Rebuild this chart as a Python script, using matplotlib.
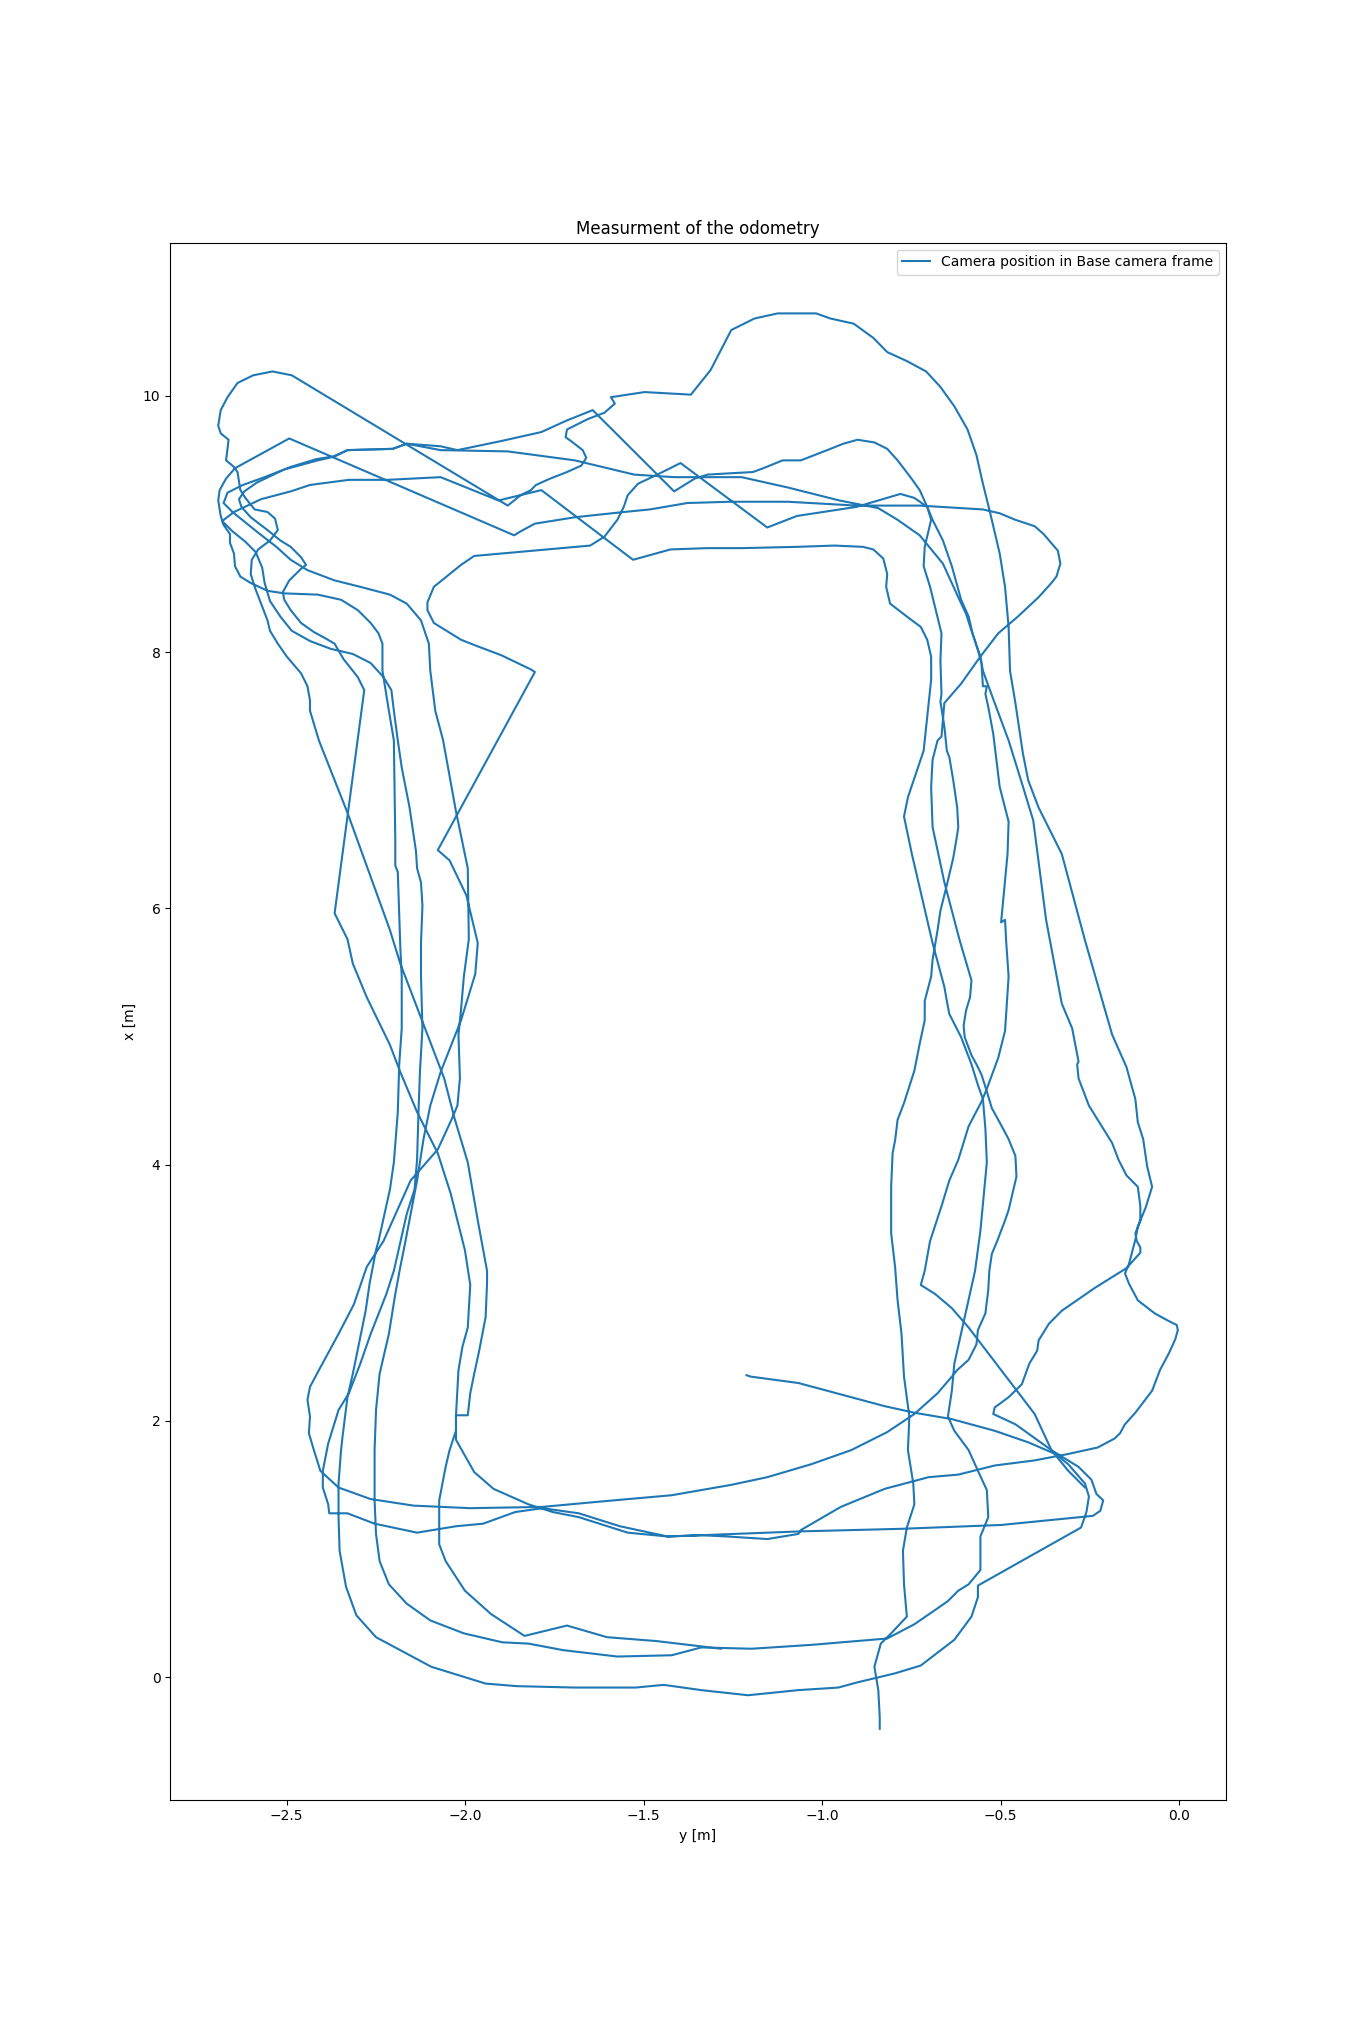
import matplotlib.pyplot as plt

# odometry trace, points are (y [m], x [m])
# start line, jump down, outer bottom, outer left side
lap1 = [(-1.212, 2.357), (-1.201, 2.346), (-1.067, 2.296), (-0.825, 2.115), (-0.742, 2.064),
        (-0.637, 2.014), (-0.517, 1.923), (-0.423, 1.833), (-0.347, 1.742), (-0.311, 1.662),
        (-0.264, 1.511), (-0.253, 1.410), (-0.260, 1.289), (-0.275, 1.168),
        (-0.564, 0.715), (-0.564, 0.624), (-0.582, 0.473), (-0.630, 0.292), (-0.724, 0.091),
        (-0.796, 0.030), (-0.901, -0.040), (-0.955, -0.081), (-1.067, -0.101), (-1.208, -0.141),
        (-1.339, -0.101), (-1.444, -0.060), (-1.523, -0.081), (-1.693, -0.081), (-1.856, -0.070),
        (-1.943, -0.050), (-2.095, 0.081), (-2.250, 0.312), (-2.305, 0.483), (-2.334, 0.705),
        (-2.352, 0.987), (-2.355, 1.249), (-2.355, 1.511), (-2.348, 1.772), (-2.344, 1.873),
        (-2.330, 2.185), (-2.315, 2.367), (-2.279, 2.860), (-2.268, 3.072), (-2.250, 3.333)]

# left side up, top left, jump, right loop, right side down, bottom
lap2 = [(-2.243, 3.404), (-2.211, 3.807), (-2.200, 4.018), (-2.189, 4.411), (-2.185, 4.783),
        (-2.178, 5.065), (-2.178, 5.468), (-2.182, 5.700), (-2.189, 6.284), (-2.196, 6.334),
        (-2.196, 6.526), (-2.200, 7.311),
        (-2.214, 7.543), (-2.232, 7.855), (-2.232, 8.066), (-2.243, 8.147), (-2.265, 8.228),
        (-2.301, 8.328), (-2.348, 8.409), (-2.413, 8.449), (-2.507, 8.459), (-2.554, 8.479),
        (-2.601, 8.540), (-2.630, 8.590), (-2.645, 8.671), (-2.648, 8.771), (-2.659, 8.852),
        (-2.659, 8.922), (-2.677, 8.993), (-2.685, 9.063), (-2.692, 9.184), (-2.688, 9.265),
        (-2.670, 9.355), (-2.645, 9.436), (-2.493, 9.668),
        (-1.863, 8.912), (-1.845, 8.943), (-1.805, 9.003), (-1.693, 9.053), (-1.556, 9.094),
        (-1.483, 9.114), (-1.378, 9.164), (-1.259, 9.174), (-1.096, 9.174), (-0.904, 9.144),
        (-0.727, 9.144), (-0.550, 9.114), (-0.503, 9.084), (-0.459, 9.033), (-0.405, 8.983),
        (-0.380, 8.922), (-0.340, 8.792), (-0.333, 8.691), (-0.344, 8.590), (-0.358, 8.540),
        (-0.394, 8.429), (-0.452, 8.278), (-0.507, 8.147), (-0.557, 7.966), (-0.611, 7.754),
        (-0.658, 7.603), (-0.666, 7.341), (-0.677, 7.311), (-0.691, 7.160), (-0.695, 6.949),
        (-0.691, 6.636), (-0.658, 6.205), (-0.615, 5.750), (-0.582, 5.438), (-0.586, 5.307),
        (-0.597, 5.206), (-0.604, 5.086), (-0.601, 4.995), (-0.582, 4.854), (-0.568, 4.783),
        (-0.554, 4.703), (-0.539, 4.572), (-0.525, 4.441), (-0.503, 4.330), (-0.478, 4.199),
        (-0.459, 4.068), (-0.456, 3.907), (-0.467, 3.776), (-0.478, 3.646), (-0.488, 3.565),
        (-0.499, 3.484), (-0.510, 3.404), (-0.525, 3.303), (-0.532, 3.172), (-0.535, 3.021),
        (-0.543, 2.840), (-0.564, 2.709), (-0.568, 2.598), (-0.590, 2.477), (-0.622, 2.397),
        (-0.637, 2.346), (-0.677, 2.216), (-0.742, 2.054), (-0.818, 1.913), (-0.919, 1.772),
        (-1.031, 1.662), (-1.154, 1.561), (-1.255, 1.501), (-1.422, 1.420), (-1.624, 1.370),
        (-1.784, 1.329), (-1.986, 1.319), (-2.145, 1.339), (-2.265, 1.390), (-2.355, 1.480),
        (-2.406, 1.611), (-2.424, 1.772), (-2.438, 1.903), (-2.435, 2.034), (-2.442, 2.165),
        (-2.435, 2.266), (-2.406, 2.417), (-2.355, 2.679), (-2.312, 2.910), (-2.276, 3.202)]

lap3 = [(-2.229, 3.404), (-2.153, 3.877), (-2.077, 4.119), (-2.037, 4.361), (-2.022, 4.461),
        (-2.015, 4.673), (-2.019, 5.015), (-2.012, 5.206), (-2.004, 5.468), (-1.990, 5.760),
        (-1.993, 6.314), (-2.026, 6.757), (-2.062, 7.311),
        (-2.084, 7.543), (-2.098, 7.855), (-2.102, 8.066), (-2.124, 8.248), (-2.164, 8.379),
        (-2.211, 8.449), (-2.294, 8.510), (-2.366, 8.560), (-2.442, 8.640), (-2.489, 8.721),
        (-2.529, 8.822), (-2.580, 8.932), (-2.616, 9.013), (-2.652, 9.094), (-2.677, 9.164),
        (-2.666, 9.245), (-2.623, 9.305), (-2.562, 9.366), (-2.489, 9.446), (-2.417, 9.507),
        (-2.370, 9.527), (-2.330, 9.577), (-2.203, 9.587), (-2.164, 9.627), (-2.069, 9.577),
        (-1.881, 9.567), (-1.693, 9.497), (-1.527, 9.386), (-1.415, 9.366), (-1.321, 9.366),
        (-1.226, 9.366), (-1.096, 9.285), (-0.952, 9.184), (-0.843, 9.124), (-0.789, 9.033),
        (-0.727, 8.912), (-0.662, 8.691), (-0.619, 8.429), (-0.597, 8.298), (-0.582, 8.167),
        (-0.557, 7.966), (-0.550, 7.855), (-0.517, 7.603), (-0.478, 7.311), (-0.441, 6.979),
        (-0.409, 6.687), (-0.373, 5.911), (-0.329, 5.257), (-0.300, 5.065), (-0.282, 4.804),
        (-0.286, 4.783), (-0.282, 4.673), (-0.253, 4.461), (-0.206, 4.250), (-0.188, 4.169),
        (-0.170, 4.038), (-0.148, 3.917), (-0.116, 3.827), (-0.109, 3.676), (-0.109, 3.565),
        (-0.123, 3.464), (-0.119, 3.404), (-0.109, 3.353), (-0.109, 3.313), (-0.148, 3.192),
        (-0.235, 3.041), (-0.329, 2.860), (-0.365, 2.759), (-0.394, 2.628), (-0.398, 2.548),
        (-0.420, 2.447), (-0.441, 2.286), (-0.478, 2.185), (-0.517, 2.105), (-0.521, 2.054),
        (-0.459, 1.974), (-0.358, 1.772), (-0.282, 1.641), (-0.246, 1.541), (-0.232, 1.430),
        (-0.213, 1.380), (-0.221, 1.299), (-0.242, 1.259), (-0.499, 1.188), (-0.778, 1.158),
        (-1.060, 1.138), (-1.339, 1.108), (-1.433, 1.098), (-1.545, 1.128), (-1.682, 1.249),
        (-1.755, 1.289), (-1.823, 1.349), (-1.921, 1.470), (-1.975, 1.601), (-2.026, 1.853),
        (-2.026, 2.044), (-1.993, 2.044)]

# up the left, top-left loop, jump, big top loop, outer right side, bottom
lap4 = [(-1.986, 2.216), (-1.975, 2.367), (-1.961, 2.548), (-1.943, 2.810), (-1.939, 3.072),
        (-1.939, 3.172), (-1.965, 3.565), (-1.993, 4.018), (-2.030, 4.361), (-2.059, 4.673),
        (-2.088, 4.884), (-2.124, 5.146), (-2.182, 5.569), (-2.200, 5.730), (-2.211, 5.831),
        (-2.330, 6.747), (-2.410, 7.311),
        (-2.435, 7.543), (-2.435, 7.623), (-2.442, 7.734), (-2.460, 7.835), (-2.500, 7.966),
        (-2.525, 8.066), (-2.547, 8.167), (-2.554, 8.248), (-2.572, 8.379), (-2.590, 8.510),
        (-2.601, 8.610), (-2.598, 8.721), (-2.580, 8.802), (-2.547, 8.872), (-2.525, 8.953),
        (-2.533, 9.043), (-2.554, 9.094), (-2.590, 9.114), (-2.616, 9.204), (-2.630, 9.265),
        (-2.638, 9.406), (-2.648, 9.446), (-2.670, 9.497), (-2.663, 9.658), (-2.685, 9.708),
        (-2.692, 9.768), (-2.685, 9.889), (-2.666, 9.990), (-2.638, 10.101), (-2.594, 10.161),
        (-2.540, 10.191), (-2.486, 10.161),
        (-1.881, 9.144), (-1.845, 9.225), (-1.816, 9.265), (-1.802, 9.305), (-1.762, 9.355),
        (-1.715, 9.406), (-1.675, 9.456), (-1.661, 9.517), (-1.671, 9.577), (-1.704, 9.648),
        (-1.719, 9.678), (-1.715, 9.738), (-1.657, 9.819), (-1.610, 9.869), (-1.581, 9.940),
        (-1.592, 9.990), (-1.498, 10.030), (-1.368, 10.010), (-1.313, 10.201), (-1.255, 10.514),
        (-1.190, 10.604), (-1.125, 10.644), (-1.017, 10.644), (-0.977, 10.604), (-0.912, 10.564),
        (-0.857, 10.453), (-0.818, 10.342), (-0.763, 10.272), (-0.709, 10.191), (-0.669, 10.070),
        (-0.630, 9.919), (-0.593, 9.738), (-0.568, 9.537), (-0.550, 9.315), (-0.532, 9.114),
        (-0.503, 8.771), (-0.488, 8.510), (-0.478, 8.197), (-0.474, 7.855), (-0.459, 7.603),
        (-0.438, 7.210), (-0.423, 6.999), (-0.394, 6.787), (-0.329, 6.425), (-0.264, 5.750),
        (-0.188, 5.015), (-0.148, 4.763), (-0.123, 4.512), (-0.116, 4.330), (-0.101, 4.199),
        (-0.090, 3.988), (-0.076, 3.827), (-0.094, 3.666), (-0.116, 3.515), (-0.123, 3.414),
        (-0.141, 3.223), (-0.152, 3.152), (-0.141, 3.072), (-0.116, 2.941), (-0.069, 2.840),
        (-0.043, 2.800), (-0.022, 2.769), (-0.007, 2.749), (-0.004, 2.709), (-0.011, 2.638),
        (-0.029, 2.528), (-0.054, 2.397), (-0.076, 2.236), (-0.123, 2.064), (-0.152, 1.974),
        (-0.166, 1.903), (-0.181, 1.863), (-0.228, 1.793), (-0.311, 1.742), (-0.405, 1.692),
        (-0.517, 1.652), (-0.619, 1.581), (-0.702, 1.561), (-0.825, 1.470), (-0.948, 1.329),
        (-1.060, 1.148), (-1.067, 1.118), (-1.154, 1.078), (-1.266, 1.098), (-1.339, 1.108),
        (-1.433, 1.098)]

lap5 = [(-1.567, 1.178), (-1.682, 1.279), (-1.784, 1.319), (-1.860, 1.289), (-1.950, 1.198),
        (-2.026, 1.178), (-2.135, 1.128), (-2.254, 1.198), (-2.330, 1.279), (-2.381, 1.279),
        (-2.384, 1.349), (-2.399, 1.480), (-2.399, 1.611), (-2.384, 1.823), (-2.355, 2.085),
        (-2.326, 2.216), (-2.294, 2.447), (-2.265, 2.679), (-2.221, 2.991), (-2.200, 3.172),
        (-2.164, 3.615), (-2.142, 3.807), (-2.135, 4.038), (-2.131, 4.411), (-2.127, 4.723),
        (-2.120, 5.065), (-2.124, 5.468), (-2.124, 5.730), (-2.120, 6.022), (-2.124, 6.203),
        (-2.135, 6.314), (-2.138, 6.445), (-2.156, 6.787), (-2.178, 7.100), (-2.189, 7.311),
        (-2.200, 7.543), (-2.207, 7.704), (-2.229, 7.805), (-2.265, 7.915), (-2.315, 7.986),
        (-2.377, 8.026), (-2.435, 8.087), (-2.486, 8.167), (-2.518, 8.278), (-2.547, 8.399),
        (-2.562, 8.540), (-2.569, 8.661), (-2.587, 8.781), (-2.616, 8.862), (-2.652, 8.943),
        (-2.681, 9.023), (-2.648, 9.094), (-2.572, 9.194), (-2.489, 9.255), (-2.435, 9.305),
        (-2.326, 9.345), (-2.218, 9.345), (-2.069, 9.366), (-1.907, 9.184), (-1.787, 9.265),
        (-1.530, 8.721), (-1.425, 8.802), (-1.321, 8.812), (-1.226, 8.812), (-1.071, 8.822),
        (-0.966, 8.832), (-0.886, 8.822), (-0.857, 8.802), (-0.829, 8.731), (-0.818, 8.610),
        (-0.821, 8.510), (-0.810, 8.379), (-0.763, 8.278), (-0.724, 8.197), (-0.706, 8.097),
        (-0.695, 7.966), (-0.695, 7.784), (-0.706, 7.492), (-0.716, 7.231), (-0.738, 7.049),
        (-0.760, 6.868), (-0.771, 6.717), (-0.749, 6.425), (-0.691, 5.730), (-0.658, 5.388),
        (-0.651, 5.277), (-0.644, 5.176), (-0.611, 4.995), (-0.582, 4.783), (-0.564, 4.622),
        (-0.550, 4.512), (-0.543, 4.280), (-0.539, 4.018), (-0.546, 3.807), (-0.557, 3.484),
        (-0.572, 3.172), (-0.601, 2.810), (-0.622, 2.548), (-0.630, 2.447), (-0.637, 2.236),
        (-0.648, 2.034), (-0.630, 1.923), (-0.590, 1.772), (-0.564, 1.611), (-0.539, 1.460),
        (-0.535, 1.249), (-0.557, 1.098), (-0.557, 0.836), (-0.590, 0.725), (-0.619, 0.675),
        (-0.648, 0.594), (-0.684, 0.524), (-0.742, 0.413), (-0.818, 0.302), (-1.031, 0.252),
        (-1.198, 0.222), (-1.339, 0.232)]

# last lap, ends on the jittery strand below zero
lap6 = [(-1.422, 0.171), (-1.574, 0.161), (-1.726, 0.211), (-1.823, 0.262), (-1.896, 0.272),
        (-2.004, 0.342), (-2.098, 0.443), (-2.164, 0.574), (-2.214, 0.725), (-2.240, 0.906),
        (-2.250, 1.118), (-2.254, 1.380), (-2.254, 1.772), (-2.250, 2.085), (-2.240, 2.367),
        (-2.214, 2.679), (-2.196, 2.991), (-2.182, 3.202),
        (-2.171, 3.353), (-2.153, 3.615), (-2.135, 3.877), (-2.117, 4.199), (-2.098, 4.461),
        (-2.069, 4.723), (-2.012, 5.126), (-1.972, 5.488), (-1.965, 5.730), (-1.997, 6.103),
        (-2.044, 6.375), (-2.077, 6.455), (-1.805, 7.845), (-1.816, 7.865), (-1.899, 7.976),
        (-1.975, 8.056), (-2.012, 8.097), (-2.088, 8.228), (-2.106, 8.328), (-2.106, 8.389),
        (-2.088, 8.510), (-2.012, 8.681), (-1.975, 8.751), (-1.650, 8.832), (-1.610, 8.902),
        (-1.574, 9.033), (-1.556, 9.134), (-1.545, 9.225), (-1.516, 9.315), (-1.462, 9.386),
        (-1.397, 9.476), (-1.154, 8.973), (-1.071, 9.063), (-0.904, 9.134), (-0.781, 9.235),
        (-0.742, 9.204), (-0.706, 9.134), (-0.695, 9.033), (-0.713, 8.822), (-0.716, 8.671),
        (-0.698, 8.510), (-0.666, 8.147), (-0.669, 7.935), (-0.666, 7.674), (-0.669, 7.613),
        (-0.658, 7.422), (-0.651, 7.231), (-0.644, 7.180), (-0.633, 6.999), (-0.622, 6.787),
        (-0.619, 6.636), (-0.622, 6.576), (-0.633, 6.395), (-0.651, 6.183), (-0.669, 5.982),
        (-0.677, 5.831), (-0.691, 5.599), (-0.695, 5.468), (-0.713, 5.277), (-0.713, 5.126),
        (-0.727, 4.945), (-0.742, 4.733), (-0.771, 4.481), (-0.789, 4.350), (-0.796, 4.189),
        (-0.803, 4.089), (-0.807, 3.827), (-0.807, 3.464), (-0.796, 3.202), (-0.789, 2.941),
        (-0.778, 2.679), (-0.771, 2.346), (-0.756, 2.034), (-0.760, 1.772), (-0.745, 1.511),
        (-0.742, 1.349), (-0.763, 1.168), (-0.774, 0.987), (-0.771, 0.725), (-0.763, 0.473),
        (-0.807, 0.342), (-0.836, 0.262), (-0.854, 0.081), (-0.843, -0.101), (-0.839, -0.312),
        (-0.839, -0.403)]

# one more lap that joins the others at both ends
lap7 = [(-1.284, 0.222), (-1.465, 0.282), (-1.603, 0.312), (-1.715, 0.403), (-1.834, 0.322),
        (-1.928, 0.493), (-2.001, 0.675), (-2.055, 0.906), (-2.073, 1.037), (-2.073, 1.380),
        (-2.055, 1.641), (-2.044, 1.772), (-2.026, 1.923), (-2.026, 2.044), (-2.019, 2.397),
        (-2.008, 2.578), (-1.993, 2.729), (-1.986, 3.061), (-2.001, 3.333),
        (-2.022, 3.565), (-2.041, 3.776), (-2.077, 4.089), (-2.135, 4.411), (-2.182, 4.723),
        (-2.211, 4.935), (-2.276, 5.307), (-2.315, 5.569), (-2.330, 5.760), (-2.366, 5.962),
        (-2.283, 7.704),
        (-2.301, 7.805), (-2.341, 7.946), (-2.366, 8.066), (-2.391, 8.107), (-2.424, 8.157),
        (-2.460, 8.228), (-2.489, 8.328), (-2.507, 8.409), (-2.511, 8.469), (-2.493, 8.560),
        (-2.460, 8.651), (-2.446, 8.681), (-2.460, 8.741), (-2.489, 8.822), (-2.518, 8.872),
        (-2.554, 8.953), (-2.601, 9.053), (-2.627, 9.134), (-2.634, 9.194), (-2.619, 9.255),
        (-2.583, 9.325), (-2.507, 9.426), (-2.413, 9.497), (-2.366, 9.527), (-2.330, 9.577),
        (-2.203, 9.587), (-2.164, 9.627), (-2.069, 9.607), (-2.022, 9.577), (-1.899, 9.648),
        (-1.787, 9.718), (-1.715, 9.809), (-1.643, 9.889), (-1.415, 9.255), (-1.357, 9.355),
        (-1.321, 9.386), (-1.259, 9.396), (-1.194, 9.406), (-1.165, 9.436), (-1.111, 9.497),
        (-1.060, 9.497), (-0.977, 9.587), (-0.941, 9.627), (-0.901, 9.658), (-0.854, 9.637),
        (-0.818, 9.587), (-0.789, 9.497), (-0.753, 9.366), (-0.727, 9.265), (-0.706, 9.134),
        (-0.691, 9.033), (-0.662, 8.872), (-0.637, 8.671), (-0.611, 8.409), (-0.590, 8.278),
        (-0.579, 8.147), (-0.564, 8.016), (-0.554, 7.915), (-0.550, 7.734), (-0.539, 7.734),
        (-0.543, 7.674), (-0.535, 7.573), (-0.521, 7.362), (-0.503, 6.949), (-0.478, 6.677),
        (-0.481, 6.425), (-0.499, 5.891), (-0.488, 5.911), (-0.485, 5.750), (-0.478, 5.468),
        (-0.488, 5.045), (-0.507, 4.834), (-0.539, 4.592), (-0.554, 4.491), (-0.590, 4.300),
        (-0.619, 4.038), (-0.644, 3.877), (-0.666, 3.676), (-0.698, 3.404), (-0.713, 3.172),
        (-0.724, 3.061), (-0.684, 2.991), (-0.637, 2.880), (-0.590, 2.729), (-0.499, 2.397),
        (-0.405, 2.054), (-0.358, 1.772), (-0.311, 1.611), (-0.264, 1.480)]

main_run = lap1 + lap2 + lap3 + lap4 + lap5 + lap6

fig, ax = plt.subplots(figsize=(13.62, 20.22), dpi=100)

y_main, x_main = zip(*main_run)
ax.plot(y_main, x_main, color='C0', label='Camera position in Base camera frame')
y_extra, x_extra = zip(*lap7)
ax.plot(y_extra, x_extra, color='C0')

ax.set_title('Measurment of the odometry')
ax.set_xlabel('y [m]')
ax.set_ylabel('x [m]')
ax.legend(loc='upper right')

fig.savefig('out.png')
